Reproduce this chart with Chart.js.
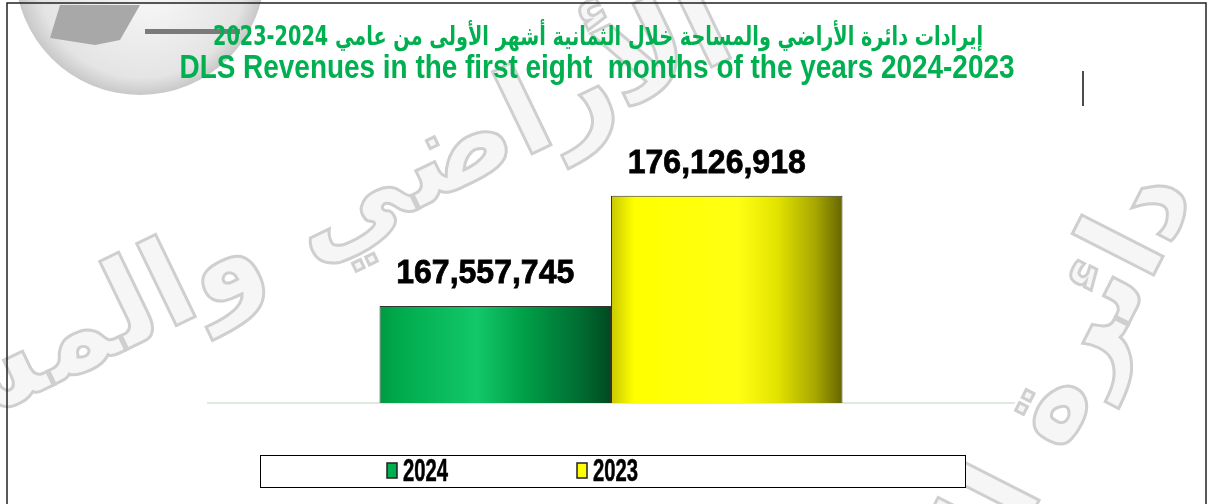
<!DOCTYPE html>
<html>
<head>
<meta charset="utf-8">
<title>DLS Revenues</title>
<script src="https://cdn.jsdelivr.net/npm/chart.js@4.4.0/dist/chart.umd.min.js"></script>
<style>
  html, body { margin: 0; padding: 0; background: #fff; }
  canvas { display: block; }
</style>
</head>
<body>
<canvas id="revenueChart" width="1208" height="504"></canvas>
<script>
"use strict";

// Данные графика
const categories = ['DLS Revenues'];
const seriesLabels = ['2024', '2023'];
const revenue2024 = [167557745];
const revenue2023 = [176126918];
const seriesColors = ['#00b050', '#ffff00'];

// Шкала значений (ось скрыта)
const yMin = 160000000;
const yMax = 180000000;

const titleAr = 'إيرادات دائرة الأراضي والمساحة خلال الثمانية أشهر الأولى من عامي 2024-2023';
const titleEn = 'DLS Revenues in the first eight  months of the years 2024-2023';
const watermarkText = 'الأراضي والمساحة';
const watermarkText2 = 'دائرة الأ';

// Градиенты для столбцов
const gradientStops = [
    [[0, '#009a42'], [0.08, '#00aa4c'], [0.42, '#12c86a'], [0.62, '#00a048'], [0.88, '#006a30'], [1, '#004a20']],
    [[0, '#c8c800'], [0.1, '#ffff00'], [0.55, '#ffff14'], [0.72, '#e2e200'], [0.88, '#a8a800'], [1, '#666600']]
];

function barGradient(context) {
    const chart = context.chart;
    const area = chart.chartArea;
    const xScale = chart.scales.x;
    if (!area || !xScale) return seriesColors[context.datasetIndex];
    const groupW = (area.right - area.left) / categories.length * chart.options.datasets.bar.categoryPercentage;
    const center = xScale.getPixelForValue(context.dataIndex);
    const barW = groupW / seriesLabels.length;
    const x0 = center - groupW / 2 + barW * context.datasetIndex;
    const g = chart.ctx.createLinearGradient(x0, 0, x0 + barW, 0);
    gradientStops[context.datasetIndex].forEach(s => g.addColorStop(s[0], s[1]));
    return g;
}

// Фон, водяной знак, рамка, заголовок
const backdropPlugin = {
    id: 'backdrop',
    beforeDraw(chart) {
        const ctx = chart.ctx;
        ctx.save();
        ctx.fillStyle = '#ffffff';
        ctx.fillRect(0, 0, chart.width, chart.height);

        // глобус в левом верхнем углу
        const gg = ctx.createRadialGradient(150, -10, 20, 140, -30, 125);
        gg.addColorStop(0, '#f4f4f4');
        gg.addColorStop(0.8, '#e4e4e4');
        gg.addColorStop(1, '#c8c8c8');
        ctx.fillStyle = gg;
        ctx.beginPath();
        ctx.arc(140, -30, 125, 0, Math.PI * 2);
        ctx.fill();
        ctx.fillStyle = '#a8a8a8';
        ctx.beginPath();
        ctx.moveTo(60, 5);
        ctx.lineTo(140, 5);
        ctx.lineTo(120, 40);
        ctx.lineTo(95, 45);
        ctx.lineTo(50, 38);
        ctx.closePath();
        ctx.fill();
        ctx.fillStyle = '#7a7a7a';
        ctx.fillRect(145, 29, 95, 5);

        // водяной знак
        ctx.font = 'bold 120px "DejaVu Sans", sans-serif';
        ctx.direction = 'rtl';
        ctx.textAlign = 'center';
        ctx.lineWidth = 3;
        ctx.strokeStyle = '#cfcfcf';
        ctx.fillStyle = '#f6f6f6';
        ctx.save();
        ctx.translate(250, 290);
        ctx.rotate(-0.45);
        ctx.fillText(watermarkText, 0, 0);
        ctx.strokeText(watermarkText, 0, 0);
        ctx.restore();
        ctx.save();
        ctx.translate(1090, 400);
        ctx.rotate(-1.1);
        ctx.fillText(watermarkText2, 0, 0);
        ctx.strokeText(watermarkText2, 0, 0);
        ctx.restore();
        ctx.direction = 'ltr';

        // рамка
        ctx.strokeStyle = '#222';
        ctx.lineWidth = 1.5;
        ctx.beginPath();
        ctx.moveTo(7, chart.height + 2);
        ctx.lineTo(7, 3);
        ctx.lineTo(1206, 3);
        ctx.lineTo(1206, chart.height + 2);
        ctx.stroke();

        // заголовок
        ctx.fillStyle = '#00b050';
        ctx.textAlign = 'center';
        ctx.direction = 'rtl';
        ctx.font = 'bold 26px "DejaVu Sans", "Liberation Sans", sans-serif';
        ctx.fillText(titleAr, 598, 45, 770);
        ctx.direction = 'ltr';
        ctx.font = 'bold 34px "Liberation Sans Narrow", "Liberation Sans", Arial, sans-serif';
        ctx.fillText(titleEn, 597, 78, 835);

        // маленькая вертикальная черта справа
        ctx.strokeStyle = '#111';
        ctx.lineWidth = 1.5;
        ctx.beginPath();
        ctx.moveTo(1083, 71);
        ctx.lineTo(1083, 106);
        ctx.stroke();

        // базовая линия
        const a = chart.chartArea;
        ctx.strokeStyle = '#d6e2d6';
        ctx.lineWidth = 1.5;
        ctx.beginPath();
        ctx.moveTo(a.left, a.bottom);
        ctx.lineTo(a.right, a.bottom);
        ctx.stroke();
        ctx.restore();
    }
};

// Подписи значений и легенда
const labelsPlugin = {
    id: 'valueLabels',
    afterDatasetsDraw(chart) {
        const ctx = chart.ctx;
        ctx.save();
        ctx.fillStyle = '#000';
        ctx.strokeStyle = '#000';
        ctx.lineWidth = 0.8;
        ctx.textAlign = 'center';
        ctx.textBaseline = 'alphabetic';
        ctx.font = 'bold 34px "Liberation Sans", Arial, sans-serif';
        chart.data.datasets.forEach((ds, i) => {
            chart.getDatasetMeta(i).data.forEach((bar, j) => {
                const text = ds.data[j].toLocaleString('en-US');
                ctx.fillText(text, bar.x - 10, bar.y - 23, 178);
                ctx.strokeText(text, bar.x - 10, bar.y - 23, 178);
            });
        });

        // легенда в рамке
        ctx.fillStyle = '#fff';
        ctx.fillRect(260, 455, 705, 32);
        ctx.strokeStyle = '#000';
        ctx.lineWidth = 1;
        ctx.strokeRect(260.5, 455.5, 705, 32);
        const itemX = [387, 577];
        ctx.textAlign = 'left';
        ctx.font = 'bold 31px "Liberation Sans Narrow", "Liberation Sans", Arial, sans-serif';
        chart.data.datasets.forEach((ds, i) => {
            ctx.fillStyle = seriesColors[i];
            ctx.fillRect(itemX[i], 463, 10, 15);
            ctx.strokeStyle = '#222';
            ctx.lineWidth = 1.5;
            ctx.strokeRect(itemX[i], 463, 10, 15);
            ctx.fillStyle = '#000';
            ctx.fillText(ds.label, itemX[i] + 16, 481, 45);
            ctx.lineWidth = 0.6;
            ctx.strokeStyle = '#000';
            ctx.strokeText(ds.label, itemX[i] + 16, 481, 45);
        });
        ctx.restore();
    }
};

function initChart() {
    const ctx = document.getElementById('revenueChart').getContext('2d');
    new Chart(ctx, {
        type: 'bar',
        data: {
            labels: categories,
            datasets: [
                { label: seriesLabels[0], data: revenue2024, backgroundColor: barGradient },
                { label: seriesLabels[1], data: revenue2023, backgroundColor: barGradient }
            ]
        },
        options: {
            responsive: false,
            animation: false,
            layout: {
                padding: { left: 207, right: 193, top: 146, bottom: 101 }
            },
            datasets: {
                bar: {
                    categoryPercentage: 0.573,
                    barPercentage: 1,
                    borderColor: '#333',
                    borderWidth: 1,
                    borderSkipped: false
                }
            },
            scales: {
                x: { display: false },
                y: { display: false, min: yMin, max: yMax }
            },
            plugins: {
                legend: { display: false },
                title: { display: false },
                tooltip: { enabled: false }
            }
        },
        plugins: [backdropPlugin, labelsPlugin]
    });
}

window.addEventListener('DOMContentLoaded', initChart);
</script>
</body>
</html>
